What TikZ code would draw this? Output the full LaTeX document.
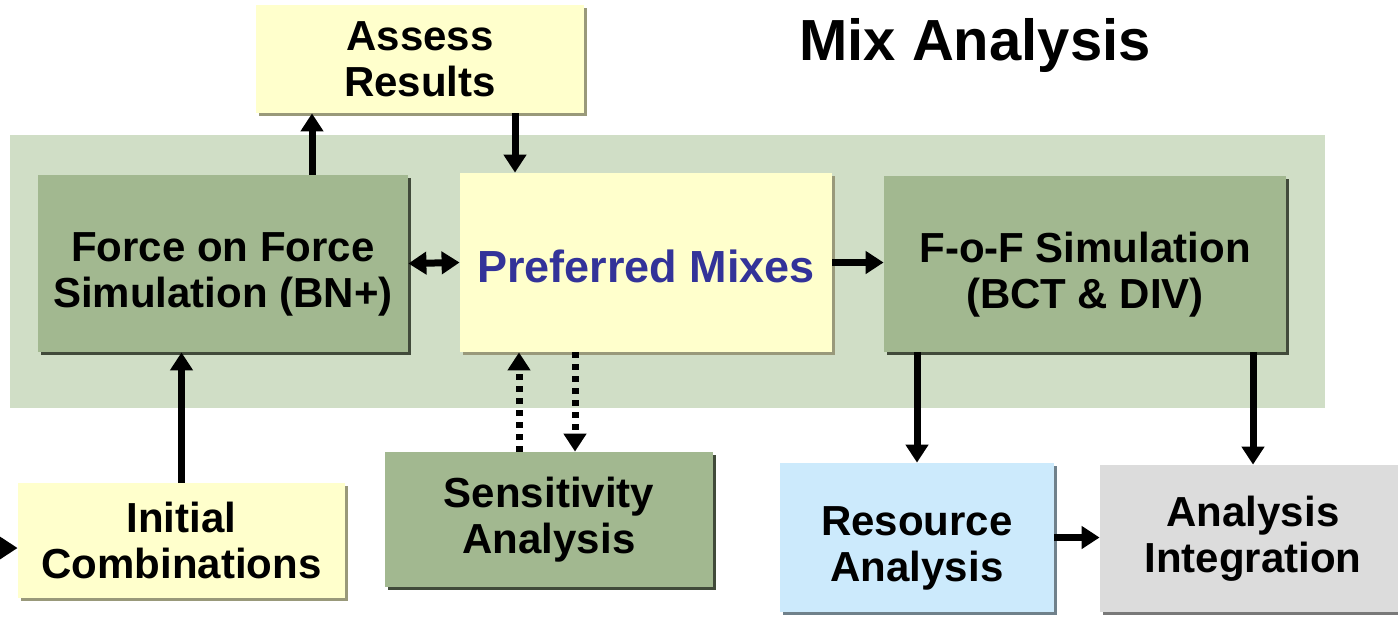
\documentclass[tikz,border=0pt]{standalone}
\usepackage{fontspec}
\setmainfont{Liberation Sans}
\usetikzlibrary{arrows.meta,shadows,calc}

\definecolor{panelgreen}{HTML}{D0DEC6}
\definecolor{boxgreen}{HTML}{A2B890}
\definecolor{boxyellow}{HTML}{FFFFCC}
\definecolor{boxblue}{HTML}{CCEAFC}
\definecolor{boxgray}{HTML}{DCDCDC}
\definecolor{textblue}{HTML}{333399}

% raise the first line so the text sits a little low in its box
\newcommand{\lowstrut}[1]{\rule{0pt}{#1}}

\tikzset{
  box/.style={align=center, inner sep=0pt,
    font=\fontsize{21}{23}\selectfont\bfseries},
  greenbox/.style={box, fill=boxgreen,
    drop shadow={shadow xshift=1.6pt, shadow yshift=-1.6pt, fill=black!60!boxgreen, opacity=1}},
  yellowbox/.style={box, fill=boxyellow,
    drop shadow={shadow xshift=1.6pt, shadow yshift=-1.6pt, fill=black!40!boxyellow, opacity=1}},
  bluebox/.style={box, fill=boxblue,
    drop shadow={shadow xshift=1.6pt, shadow yshift=-1.6pt, fill=black!45!boxblue, opacity=1}},
  graybox/.style={box, fill=boxgray,
    drop shadow={shadow xshift=1.6pt, shadow yshift=-1.6pt, fill=black!45!boxgray, opacity=1}},
  flow/.style={line width=3.5pt, -{Triangle[width=11pt,length=9pt]}},
  twoway/.style={line width=3.5pt, {Triangle[width=11pt,length=9pt]}-{Triangle[width=11pt,length=9pt]}},
  dotflow/.style={flow, dash pattern=on 3pt off 3pt}
}

\begin{document}
\begin{tikzpicture}[x=0.5pt,y=-0.5pt]

    \useasboundingbox (0,0) rectangle (1398,618);

    % draw background panel
    \fill[panelgreen] (10,135) rectangle (1325,408);

    % draw title
    \node[font=\fontsize{29}{32}\selectfont\bfseries] (title) at (975,45) {Mix Analysis};

    % draw boxes
    \node[greenbox, minimum width=185pt, minimum height=88.5pt] (fof) at (223,263.5)
      {\lowstrut{25pt}Force on Force\\Simulation (BN+)};
    \node[yellowbox, minimum width=186pt, minimum height=89.5pt,
      font=\fontsize{22.5}{25}\selectfont\bfseries, text=textblue] (pref) at (646,262.5)
      {\lowstrut{20pt}Preferred Mixes};
    \node[greenbox, minimum width=201pt, minimum height=88pt] (fofsim) at (1085,264)
      {\lowstrut{26pt}F-o-F Simulation\\(BCT \& DIV)};
    \node[yellowbox, minimum width=164pt, minimum height=54pt] (assess) at (420,59)
      {Assess\\Results};
    \node[yellowbox, minimum width=163.5pt, minimum height=57.5pt] (init) at (181.5,540.5)
      {Initial\\Combinations};
    \node[greenbox, minimum width=164pt, minimum height=67.5pt] (sens) at (549,519.5)
      {Sensitivity\\Analysis};
    \node[bluebox, minimum width=137pt, minimum height=74.5pt] (res) at (917,537.5)
      {\lowstrut{25pt}Resource\\Analysis};
    \node[graybox, minimum width=153pt, minimum height=73.5pt] (integ) at (1253,538.5)
      {Analysis\\Integration};

    % draw arrows
    \coordinate (src) at (-10,548);
    \draw[flow] (src) -- (src -| init.west);
    \draw[flow] (init.north) -- (init.north |- fof.south);
    \draw[flow] ([xshift=44.5pt]fof.north) -- ([xshift=44.5pt]fof.north |- assess.south);
    \draw[flow] ([xshift=-65.5pt]pref.north |- assess.south) -- ([xshift=-65.5pt]pref.north);
    \draw[twoway] (fof.east) -- (pref.west);
    \draw[flow] (pref.east) -- (pref.east -| fofsim.west);
    \draw[dotflow] ([xshift=-15pt]sens.north) -- ([xshift=-15pt]sens.north |- pref.south);
    \draw[dotflow] ([xshift=13pt]sens.north |- pref.south) -- ([xshift=13pt]sens.north);
    \draw[flow] (res.north |- fofsim.south) -- (res.north);
    \draw[flow] (integ.north |- fofsim.south) -- (integ.north);
    \draw[flow] (res.east) -- (res.east -| integ.west);

\end{tikzpicture}
\end{document}
